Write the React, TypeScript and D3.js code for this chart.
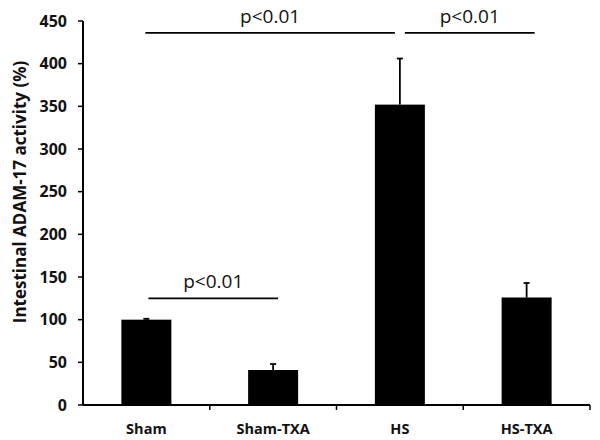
import React from "react";
import * as d3 from "d3";

const categories = ["Sham", "Sham-TXA", "HS", "HS-TXA"];
const means = [100, 41, 352, 126];
const errors = [1, 7, 54, 17];
const yTicks = [0, 50, 100, 150, 200, 250, 300, 350, 400, 450];
const sigPairs: [number, number, number, string][] = [
  [0, 1, 125, "p<0.01"],
  [0, 2, 436, "p<0.01"],
  [2, 3, 436, "p<0.01"],
];

export default function App() {
  const W = 600, H = 440;
  const left = 83, right = 590, top = 21, bottom = 405;
  const band = d3.scaleBand<string>().domain(categories).range([left, right]);
  const y = d3.scaleLinear().domain([0, 450]).range([bottom, top]);
  const font = "'Open Sans', sans-serif";
  const cx = (c: string) => band(c)! + band.bandwidth() / 2;
  const bw = 50;

  const bracketEnds = (a: number, b: number): [number, number] => {
    const x1 = cx(categories[a]);
    const x2 = cx(categories[b]);
    if (a === 0 && b === 2) return [x1 - 1, x2 - 5];
    if (a === 2) return [x1 + 5, x2 + 8];
    return [x1 + 2, x2 + 5];
  };

  return (
    <svg width={W} height={H} style={{ position: "absolute", left: 0, top: 0, background: "#fff" }}>
      <rect width={W} height={H} fill="#fff" />
      {categories.map((c, i) => (
        <rect key={c} x={cx(c) - bw / 2} y={y(means[i])} width={bw} height={bottom - y(means[i])} fill="#000" />
      ))}
      {categories.map((c, i) => (
        <g key={"e" + c} stroke="#000" strokeWidth={1.8}>
          <line x1={cx(c)} x2={cx(c)} y1={y(means[i])} y2={y(means[i] + errors[i])} />
          <line x1={cx(c) - 3} x2={cx(c) + 3} y1={y(means[i] + errors[i])} y2={y(means[i] + errors[i])} />
        </g>
      ))}
      <line x1={left} x2={left} y1={top} y2={bottom} stroke="#000" strokeWidth={2} />
      {yTicks.map((t) => (
        <g key={t}>
          <line x1={left - 5} x2={left} y1={y(t)} y2={y(t)} stroke="#000" strokeWidth={1.5} />
          <text x={left - 16} y={y(t)} dy="0.36em" textAnchor="end" fontFamily={font} fontWeight="bold" fontSize={16} fill="#111">
            {t}
          </text>
        </g>
      ))}
      <line x1={left} x2={right} y1={bottom} y2={bottom} stroke="#000" strokeWidth={2} />
      {categories.map((c) => (
        <line key={"t" + c} x1={band(c)! + band.bandwidth()} x2={band(c)! + band.bandwidth()} y1={bottom} y2={bottom + 5} stroke="#000" strokeWidth={1.5} />
      ))}
      {categories.map((c) => (
        <text key={"l" + c} x={cx(c)} y={434} textAnchor="middle" fontFamily={font} fontWeight="bold" fontSize={14.5} fill="#111">
          {c}
        </text>
      ))}
      <text transform={`translate(26,192) rotate(-90)`} textAnchor="middle" fontFamily={font} fontWeight="bold" fontSize={17} fill="#111">
        Intestinal ADAM-17 activity (%)
      </text>
      {sigPairs.map(([a, b, v, lab], k) => {
        const [xs, xe] = bracketEnds(a, b);
        return (
          <g key={"s" + k}>
            <line x1={xs} x2={xe} y1={y(v)} y2={y(v)} stroke="#000" strokeWidth={1.8} />
            <text x={(xs + xe) / 2} y={y(v) - 10} textAnchor="middle" fontFamily={font} fontSize={19} fill="#111">
              {lab}
            </text>
          </g>
        );
      })}
    </svg>
  );
}
